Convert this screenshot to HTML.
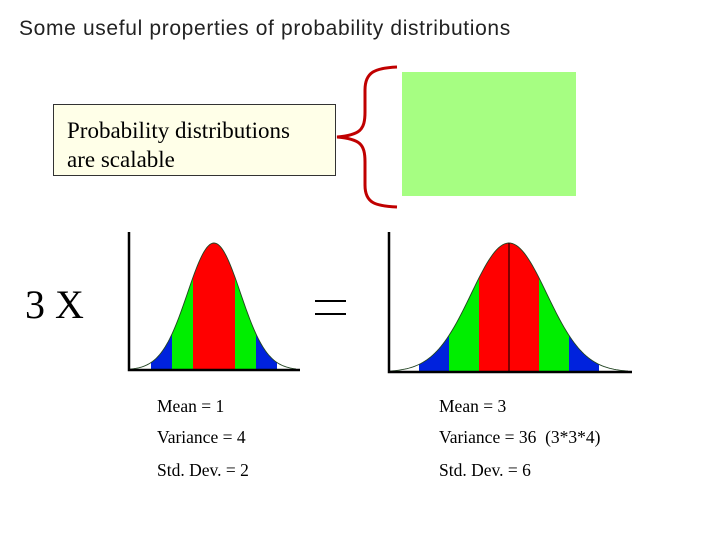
<!DOCTYPE html>
<html><head><meta charset="utf-8"><style>
body{margin:0;background:#fff;width:720px;height:540px;overflow:hidden;position:relative}
.t{position:absolute;white-space:nowrap}
.lb{font:17.5px 'Liberation Serif',serif}
</style></head><body>
<div class="t" style="left:19px;top:17px;font:21px 'Liberation Sans',sans-serif;letter-spacing:0.65px;color:#222">Some useful properties of probability distributions</div>
<div class="t" style="left:53px;top:104px;width:283px;height:72px;border:1px solid #333;background:#ffffe8;font:23px 'Liberation Serif',serif;line-height:29px;padding:11px 0 0 13px;box-sizing:border-box">Probability distributions<br>are scalable</div>
<div class="t" style="left:402px;top:72px;width:174px;height:124px;background:#a6fe82"></div>
<svg width="720" height="540" style="position:absolute;left:0;top:0" id="s">
<path d="M397 67 C375 68 365 72 365 90 L365 112 C365 130 360 135 337 137 C360 139 365 144 365 162 L365 185 C365 203 375 206 397 207" fill="none" stroke="#c00000" stroke-width="3"/>
<text x="25" y="318" font-family="Liberation Serif,serif" font-size="40" letter-spacing="0">3 X</text>
<g stroke="#000" stroke-width="2"><line x1="315" y1="301" x2="346" y2="301"/><line x1="315" y1="314" x2="346" y2="314"/></g>
<g id="charts"></g>
</svg>
<div class="t lb" style="left:157px;top:396px">Mean = 1</div>
<div class="t lb" style="left:157px;top:427px">Variance = 4</div>
<div class="t lb" style="left:157px;top:460px">Std. Dev. = 2</div>
<div class="t lb" style="left:439px;top:396px">Mean = 3</div>
<div class="t lb" style="left:439px;top:427px">Variance = 36&nbsp; (3*3*4)</div>
<div class="t lb" style="left:439px;top:460px">Std. Dev. = 6</div>
<script>
const means=[1,3];
const sds=[2,6];
const bandColors=['#0022dd','#00ee00','#ff0000','#ff0000','#00ee00','#0022dd'];
const NS="http://www.w3.org/2000/svg";
const g=document.getElementById('charts');
const panels=[{ax:129,top:232,base:370,right:300,cx:214,pxu:10.5,h:127,mid:false},
{ax:389,top:232,base:372,right:632,cx:509,pxu:5,h:129,mid:true}];
function mk(tag,attrs){const e=document.createElementNS(NS,tag);for(const k in attrs)e.setAttribute(k,attrs[k]);g.appendChild(e);return e;}
panels.forEach((p,i)=>{
 const m=means[i],s=sds[i];
 const X=v=>p.cx+(v-m)*p.pxu;
 const Y=v=>p.base-p.h*Math.exp(-0.5*((v-m)/(1.26*s))**2);
 for(let b=0;b<6;b++){
  const a=m+(b-3)*s,c=m+(b-2)*s;
  let d=`M${X(a)} ${p.base}`;
  for(let k=0;k<=20;k++){const v=a+(c-a)*k/20;d+=` L${X(v)} ${Y(v)}`;}
  d+=` L${X(c)} ${p.base}Z`;
  const e=mk('path',{d,fill:bandColors[b]});
  
  
 }
 let d='';
 const x0=(p.ax-p.cx)/p.pxu+m,x1=(p.right-4-p.cx)/p.pxu+m;
 for(let k=0;k<=120;k++){const v=x0+(x1-x0)*k/120;d+=(k?' L':'M')+X(v)+' '+Y(v);}
 const c=mk('path',{d,fill:'none',stroke:'#224422','stroke-width':0.9});
 
 
 if(p.mid){const l=mk('line',{x1:X(m),y1:Y(m),x2:X(m),y2:p.base,stroke:'#000','stroke-width':1});
  
  }
 const ax=mk('path',{d:`M${p.ax} ${p.top} L${p.ax} ${p.base} L${p.right} ${p.base}`,fill:'none',stroke:'#000','stroke-width':2.5});
 
 
});
</script>
</body></html>
